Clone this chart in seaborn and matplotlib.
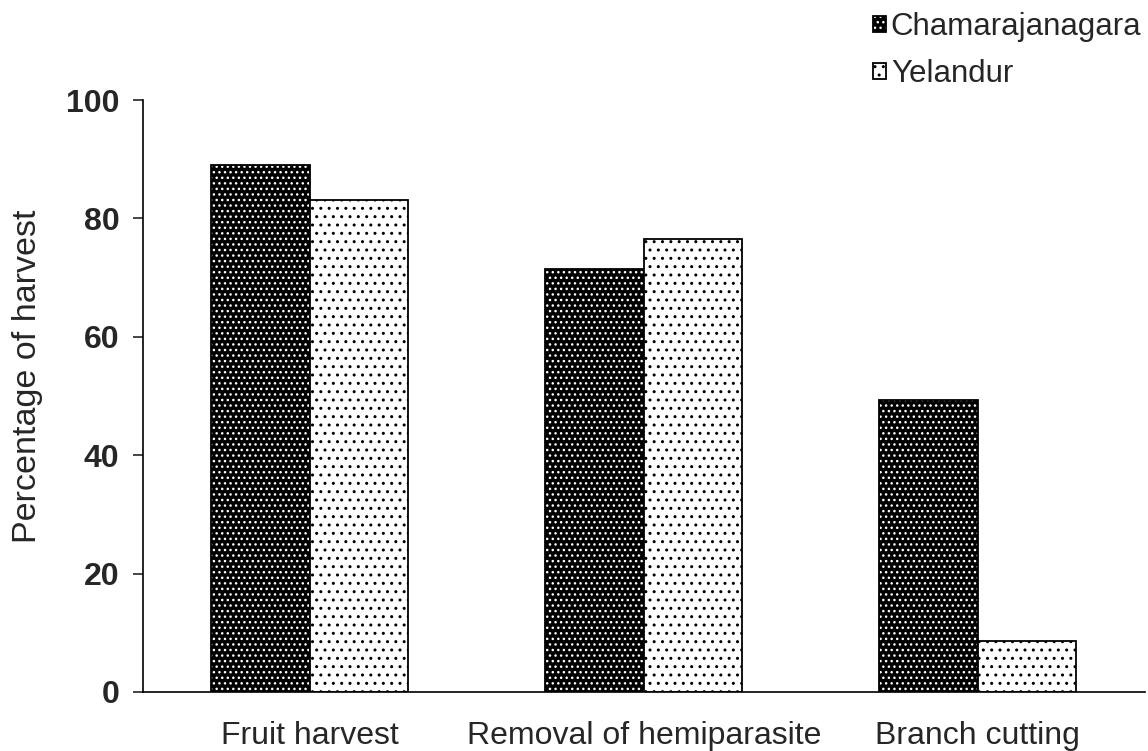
import pandas as pd
import numpy as np
import matplotlib
matplotlib.use("Agg")
import matplotlib.pyplot as plt
import matplotlib.colors as mcolors
import seaborn as sns

# ---------------- data ----------------
activities = ["Fruit harvest", "Removal of hemiparasite", "Branch cutting"]
sites = ["Chamarajanagara", "Yelandur"]
chamarajanagara = [89.0, 71.5, 49.3]
yelandur = [83.1, 76.5, 8.6]
yticks = [0, 20, 40, 60, 80, 100]

df = pd.DataFrame({
    "activity": activities * 2,
    "site": [sites[0]] * 3 + [sites[1]] * 3,
    "pct": chamarajanagara + yelandur,
})

sns.set_style("white")
plt.rcParams["font.family"] = ["Liberation Sans", "DejaVu Sans"]
plt.rcParams["hatch.linewidth"] = 1.0

fig = plt.figure(figsize=(11.48, 7.51), dpi=100)
ax = fig.add_axes([0.1246, 0.0786, 0.8724, 0.7882])

sns.barplot(data=df, x="activity", y="pct", hue="site", order=activities,
            hue_order=sites, palette={sites[0]: "black", sites[1]: "white"},
            saturation=1, width=0.59, edgecolor="black", linewidth=1.3,
            legend=False, ax=ax)

# dotted fills: white dots on the dark bars, black dots on the light ones
for cont, hatch, hc in zip(ax.containers, ["...", ".."], ["white", "black"]):
    for p in cont:
        p.set_hatch(hatch)
        p._hatch_color = mcolors.to_rgba(hc)

ax.set_xlim(-0.5, 2.5)
ax.set_ylim(0, 100)
ax.set_yticks(yticks)
ax.set_xlabel("")
ax.set_ylabel("Percentage of harvest", fontsize=24.5)
ax.yaxis.set_label_coords(-0.1, 0.534)

for lab in ax.get_yticklabels():
    lab.set_fontweight("heavy")
ax.tick_params(axis="y", labelsize=23, length=7, width=1.2, pad=10, direction="out", left=True)
ax.tick_params(axis="x", labelsize=23, length=0, pad=21)

sns.despine(ax=ax)
for s in ["left", "bottom"]:
    ax.spines[s].set_linewidth(1.2)
    ax.spines[s].set_color("black")

ax.legend(handles=ax.containers, labels=sites, loc="upper right",
          bbox_to_anchor=(0.997, 0.988), bbox_transform=fig.transFigure,
          frameon=False, fontsize=22.5, handlelength=0.42, handleheight=0.42,
          handletextpad=0.15, labelspacing=0.55, borderaxespad=0, borderpad=0.1)

fig.savefig("out.png", dpi=100)
